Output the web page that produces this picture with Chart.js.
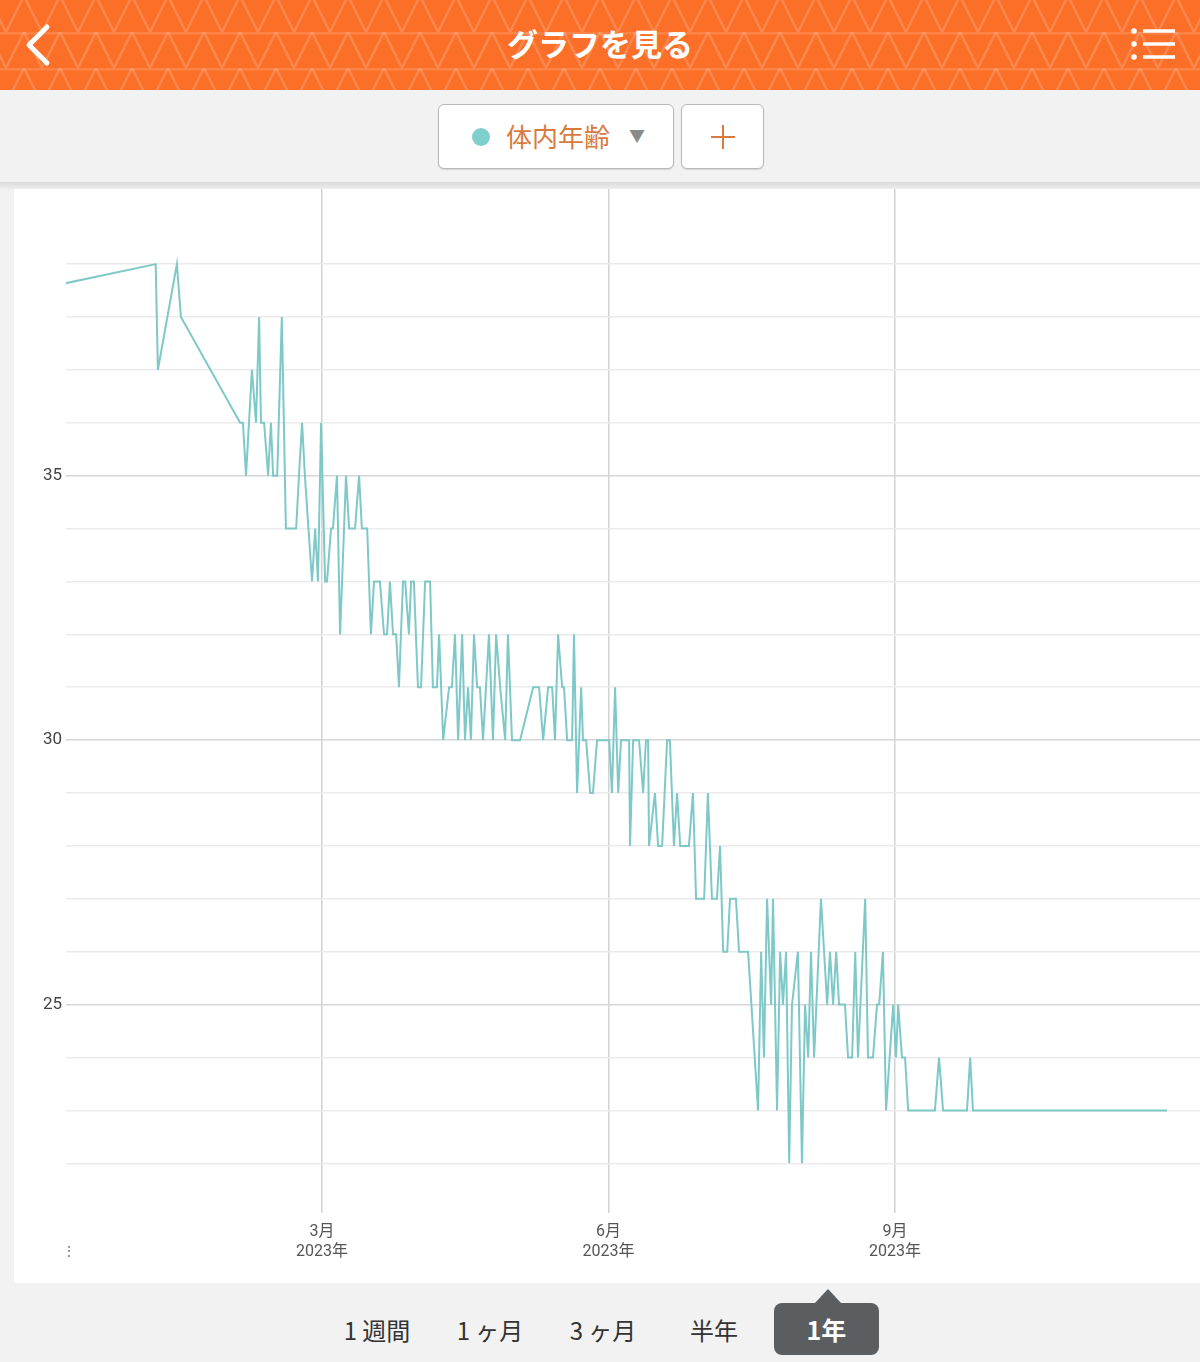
<!DOCTYPE html>
<html><head><meta charset="utf-8">
<script src="https://cdn.jsdelivr.net/npm/chart.js@4.4.0/dist/chart.umd.min.js"></script>
<style>
html,body{margin:0;padding:0;}
body{width:1200px;height:1362px;position:relative;overflow:hidden;background:#f2f2f2;font-family:"Noto Sans CJK JP","Noto Sans",Roboto,sans-serif;}
#header{position:absolute;left:0;top:0;width:1200px;height:90px;background-color:#fc6f28;
background-image:url("data:image/svg+xml,%3Csvg xmlns='http://www.w3.org/2000/svg' width='36' height='36'%3E%3Cpath d='M0 36 L18 0 L36 36' fill='none' stroke='white' stroke-opacity='0.17' stroke-width='2.5'/%3E%3Cpath d='M0 0H36' stroke='white' stroke-opacity='0.14' stroke-width='5'/%3E%3C/svg%3E");
background-position:6px 32px;}
#title{position:absolute;left:0;top:0;width:1200px;height:90px;line-height:86px;text-align:center;color:#fff;font-weight:bold;font-size:31px;}
#toolbar{position:absolute;left:0;top:90px;width:1200px;height:92px;background:#f2f2f2;}
#shadow{position:absolute;left:0;top:182px;width:1200px;height:8px;background:linear-gradient(#d9d9d9,#f2f2f2);}
.btn{position:absolute;top:104px;height:63px;background:#fff;border:1px solid #b8b8b8;border-radius:6px;box-shadow:0 1px 1px rgba(0,0,0,0.12);}
#card{position:absolute;left:14px;top:189px;width:1186px;height:1094px;background:#fff;}
#c{position:absolute;left:14px;top:189px;}
.tab{position:absolute;top:1310px;height:40px;line-height:40px;font-size:24px;color:#333;text-align:center;width:120px;}
#sel{position:absolute;left:774px;top:1303px;width:105px;height:52px;background:#5b5e61;border-radius:8px;color:#fff;font-weight:bold;font-size:25px;line-height:52px;text-align:center;}
#tri{position:absolute;left:814px;top:1289px;width:0;height:0;border-left:14px solid transparent;border-right:14px solid transparent;border-bottom:15px solid #5b5e61;}
</style></head>
<body>
<div id="header"></div>
<div id="title">グラフを見る</div>
<svg style="position:absolute;left:0;top:0" width="1200" height="90">
  <polyline points="47,27 29,45 47,63" fill="none" stroke="#fff" stroke-width="5" stroke-linecap="round" stroke-linejoin="round"/>
  <circle cx="1134" cy="31" r="2.8" fill="#fff"/><circle cx="1134" cy="44" r="2.8" fill="#fff"/><circle cx="1134" cy="57" r="2.8" fill="#fff"/>
  <line x1="1143" y1="31" x2="1175" y2="31" stroke="#fff" stroke-width="3.5"/>
  <line x1="1143" y1="44" x2="1175" y2="44" stroke="#fff" stroke-width="3.5"/>
  <line x1="1143" y1="57" x2="1175" y2="57" stroke="#fff" stroke-width="3.5"/>
</svg>
<div id="toolbar"></div>
<div id="shadow"></div>
<div class="btn" style="left:438px;width:234px;">
  <div style="position:absolute;left:33px;top:23px;width:18px;height:18px;border-radius:50%;background:#7fcfcf;"></div>
  <div style="position:absolute;left:67px;top:0;height:63px;line-height:62px;font-size:26px;color:#d97a3e;">体内年齢</div>
  <div style="position:absolute;left:190px;top:0;height:63px;line-height:60px;font-size:16px;color:#8a8a8a;">▼</div>
</div>
<div class="btn" style="left:681px;width:81px;">
  <svg style="position:absolute;left:0;top:0" width="81" height="63">
    <line x1="29" y1="32" x2="53" y2="32" stroke="#d97a3e" stroke-width="2"/>
    <line x1="41" y1="20" x2="41" y2="44" stroke="#d97a3e" stroke-width="2"/>
  </svg>
</div>
<div id="card"></div>
<canvas id="c" width="1186" height="1094"></canvas>
<div style="position:absolute;left:62px;top:1240px;font-size:14px;color:#777;line-height:20px;">⋮</div>
<div class="tab" style="left:317px;">1 週間</div>
<div class="tab" style="left:430px;">1 ヶ月</div>
<div class="tab" style="left:543px;">3 ヶ月</div>
<div class="tab" style="left:654px;">半年</div>
<div id="tri"></div>
<div id="sel">1年</div>
<script>
// days since 2023-01-01 (measurement time, fractional days)
const measureDays = [-74.5,5.6,6.3,12.4,13.7,32.7,33.6,34.6,36.5,37.8,38.8,39.4,40.4,41.7,42.6,43.3,44.6,46.1,47.4,50.7,51.6,52.6,53.5,55.8,56.8,57.7,58.7,60.0,60.6,61.9,62.5,63.8,64.8,66.7,67.7,69.6,70.9,71.8,73.5,74.7,75.7,77.6,78.9,79.9,80.8,81.8,82.8,83.7,85.0,85.7,86.9,87.6,88.5,89.8,90.8,92.1,93.7,94.6,95.9,96.6,97.9,99.8,100.7,101.7,102.7,104.0,104.9,105.9,106.8,107.8,108.8,109.7,110.7,112.6,113.9,114.9,116.2,117.8,118.7,120.0,122.6,126.8,128.7,130.0,131.6,132.9,133.8,134.8,136.1,136.7,137.7,139.3,139.9,140.9,142.2,142.8,143.8,145.1,146.0,147.3,151.2,152.1,153.1,154.1,155.0,157.6,157.9,158.9,160.8,162.1,163.0,163.7,164.0,165.9,166.9,168.2,169.8,170.7,172.0,173.0,174.0,176.8,178.1,179.1,181.7,182.9,184.2,185.8,186.8,187.8,189.1,190.0,191.9,192.9,195.8,199.0,200.0,200.9,201.9,203.2,203.8,205.1,206.1,207.0,208.0,209.0,209.9,211.8,213.1,214.1,215.1,216.0,217.0,219.2,221.2,222.1,223.1,224.1,225.0,226.9,227.9,229.2,230.2,231.1,233.4,234.3,235.9,237.2,237.9,239.1,240.1,242.4,243.3,244.0,245.2,246.2,247.2,255.8,257.1,258.4,266.1,267.1,268.0,330.3];
const bodyAge = [38,39,37,39,38,36,36,35,37,36,38,36,36,35,36,35,35,38,34,34,35,36,35,33,34,33,36,33,33,34,34,35,32,35,34,34,35,34,34,32,33,33,32,32,33,32,32,31,33,33,32,33,33,31,31,33,33,31,31,32,30,31,31,32,30,32,30,31,30,32,31,31,30,32,30,32,31,30,32,30,30,31,31,30,31,31,30,32,31,31,30,30,32,29,31,30,30,29,29,30,30,29,31,29,30,30,28,30,30,29,30,30,28,29,28,28,30,30,28,29,28,28,29,27,27,29,27,27,28,26,26,27,27,26,26,23,26,24,27,25,27,23,26,25,26,22,25,26,22,25,24,26,24,27,25,26,25,26,25,25,24,24,26,24,27,24,24,25,25,26,23,25,24,25,24,24,23,23,24,23,23,24,23,23];
const xRange = [-23.2, 340.9];
const xTickDays = [59, 151, 243];
const xTickMonths = ['3月', '6月', '9月'];
const xTickYears = ['2023年', '2023年', '2023年'];
const yRange = [21.06, 40.42];
const yGridValues = [22,23,24,25,26,27,28,29,30,31,32,33,34,35,36,37,38,39];
const yLabelValues = [25, 30, 35];

const fontFam = "Roboto, 'Noto Sans CJK JP', sans-serif";
function noPad(s) { s.paddingTop = 0; s.paddingBottom = 0; s.paddingLeft = 0; s.paddingRight = 0; }
new Chart(document.getElementById('c'), {
  type: 'line',
  data: { datasets: [{
    data: measureDays.map((d, i) => ({ x: d, y: bodyAge[i] })),
    borderColor: '#7fc8c8', borderWidth: 2, pointRadius: 0, tension: 0, fill: false
  }]},
  options: {
    responsive: false, animation: false, devicePixelRatio: 1,
    layout: { padding: 0 },
    plugins: { legend: { display: false }, tooltip: { enabled: false } },
    scales: {
      x: {
        type: 'linear', min: xRange[0], max: xRange[1],
        afterBuildTicks: s => { s.ticks = xTickDays.map(v => ({ value: v })); },
        afterFit: s => { s.height = 70; noPad(s); },
        grid: { color: '#d2d2d2', lineWidth: 1.5, drawTicks: false },
        border: { display: false },
        ticks: {
          padding: 9, maxRotation: 0, autoSkip: false, color: '#555',
          font: { size: 16, family: fontFam, lineHeight: 1.25 },
          callback: v => { const i = xTickDays.indexOf(v); return i >= 0 ? [xTickMonths[i], xTickYears[i]] : ''; }
        }
      },
      y: {
        min: yRange[0], max: yRange[1],
        afterBuildTicks: s => { s.ticks = yGridValues.map(v => ({ value: v })); },
        afterFit: s => { s.width = 52; noPad(s); },
        grid: { color: c => (c.tick && yLabelValues.includes(c.tick.value)) ? '#d6d6d6' : '#ebebeb', lineWidth: 1.5, drawTicks: false },
        border: { display: false },
        ticks: {
          padding: 4, color: '#444', font: { size: 17, family: fontFam },
          callback: v => yLabelValues.includes(v) ? String(v) : ''
        }
      }
    }
  }
});
</script>
</body></html>
